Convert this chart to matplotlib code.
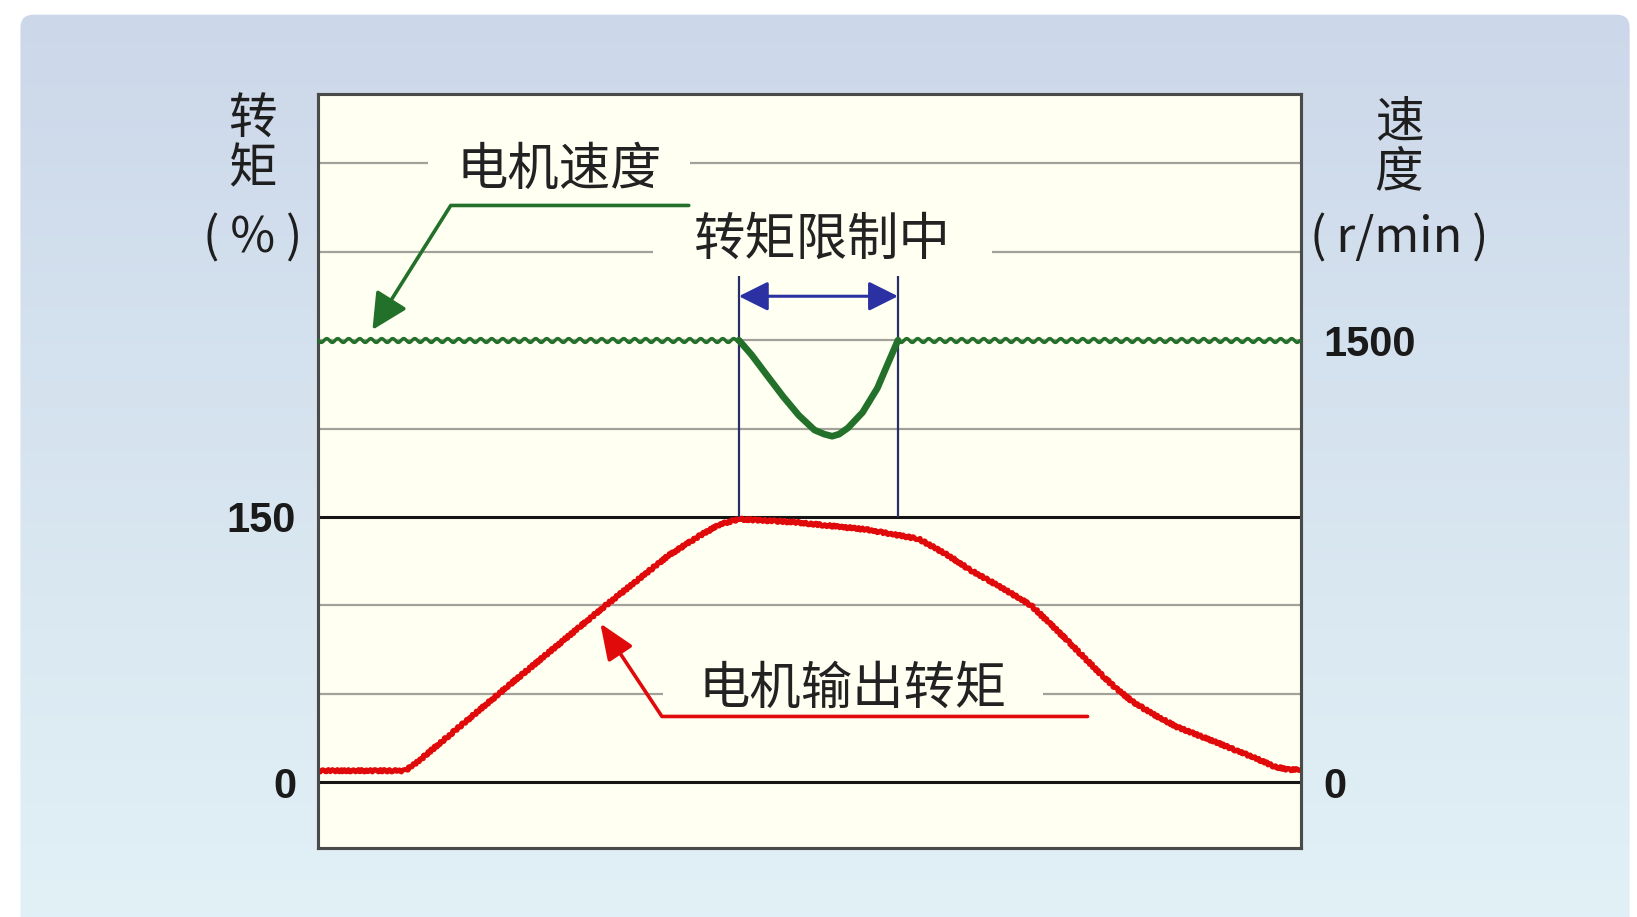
import matplotlib
matplotlib.use("Agg")
import matplotlib.pyplot as plt
from matplotlib.patches import FancyBboxPatch
import numpy as np

plt.rcParams['font.family'] = ['Noto Sans CJK SC', 'DejaVu Sans']

# time axis has no units, 0..100 across the plot
speed_rated = 1500
speed_flat_left_t = [0.0, 42.8]
speed_flat_right_t = [59.0, 100.0]
dip_t = [42.8, 44.1, 45.7, 47.3, 48.9, 50.5, 51.5, 52.3, 53.0, 53.9, 55.4, 56.9, 57.9, 59.0]
dip_speed = [1500, 1450, 1379, 1309, 1245, 1195, 1181, 1174, 1181, 1202, 1255, 1337, 1415, 1500]

torque_t = [0, 8.8, 9.9, 18.4, 29.2, 35.6, 38.8, 40.9, 42.8, 48.4, 55.8, 61.1,
            63.8, 66.4, 69.6, 72.6, 76.2, 79.9, 81.3, 82.9, 85.0, 87.4, 91.7,
            95.4, 97.3, 98.8, 100]
torque_pct = [6.5, 6.5, 10.6, 50.2, 99.8, 128.1, 139.4, 145.9, 148.8, 147.1, 142.9, 137.6,
              129.3, 119.9, 109.9, 99.8, 80.3, 59.7, 52.6, 45.5, 38.4, 31.3, 21.9,
              13.6, 8.9, 7.1, 7.1]

limit_start, limit_end = 42.8, 59.0
torque_grid = [50, 100, 200, 250, 300, 350]
torque_ticks = [0, 150]
speed_ticks = [0, 1500]

RED = '#e10a0a'
GREEN = '#22702a'
BLUE = '#2b31a3'
NAVY = '#2a2e66'

fig = plt.figure(figsize=(16.37, 9.17), dpi=100, facecolor='white')

# background panel with a vertical gradient and rounded top corners
bg = fig.add_axes([0, 0, 1, 1], zorder=-10)
bg.axis('off')
grad = np.linspace(0, 1, 256).reshape(-1, 1)
top = np.array([0.800, 0.845, 0.915])
bot = np.array([0.885, 0.945, 0.965])
img = top + (bot - top) * grad[..., None] * np.ones((1, 1, 3))
im = bg.imshow(img, extent=[0, 1, 0, 1], aspect='auto', origin='upper')
panel = FancyBboxPatch((0.0125, -0.05), 0.983, 1.034,
                       boxstyle="round,pad=0,rounding_size=0.008",
                       mutation_aspect=1637 / 917, transform=bg.transAxes,
                       facecolor='none', edgecolor='none')
bg.add_patch(panel)
im.set_clip_path(panel)
bg.set_xlim(0, 1)
bg.set_ylim(0, 1)

ax = fig.add_axes([0.1945, 0.0752, 0.6001, 0.8223])
ax.set_facecolor('#fffff2')
ax.set_xlim(0, 100)
ax.set_ylim(-37.2, 389.2)
ax2 = ax.twinx()
ax2.set_ylim(-223.2, 2335.2)

for a in (ax, ax2):
    a.set_xticks([])
    for s in a.spines.values():
        s.set_color('#4a4a4a')
        s.set_linewidth(2.2)
ax.spines['top'].set_color('#8a8a86')

# grid lines
for g in torque_grid:
    ax.axhline(g, color='#a2a29a', lw=1.6, zorder=1)
for g in torque_ticks:
    ax.axhline(g, color='#151515', lw=2.2, zorder=1.5)

ax.set_yticks(torque_ticks)
ax.set_yticklabels([str(v) for v in torque_ticks])
ax2.set_yticks(speed_ticks)
ax2.set_yticklabels([str(v) for v in speed_ticks])
for a in (ax, ax2):
    a.tick_params(axis='y', length=0, pad=16, labelsize=30)
    for lab in a.get_yticklabels():
        lab.set_family(['Liberation Sans', 'DejaVu Sans'])
        lab.set_fontweight('bold')
        lab.set_color('#1a1a1a')

# labels inside the plot (boxes hide the grid behind them)
box = dict(boxstyle='square,pad=0.55', facecolor='#fffff2', edgecolor='none')
ax.text(24.5, 346, '电机速度', fontsize=37, ha='center', va='center',
        color='#222222', bbox=box, zorder=2, fontweight='medium')
ax.text(51.3, 306.5, '转矩限制中', fontsize=37, ha='center', va='center',
        color='#222222', bbox=dict(box, boxstyle='square,pad=0.8'), zorder=2,
        fontweight='medium')
ax.text(54.4, 52.6, '电机输出转矩', fontsize=37, ha='center', va='center',
        color='#222222', bbox=dict(box, boxstyle='square,pad=0.7'), zorder=2,
        fontweight='medium')

# motor torque
tl, = ax.plot(torque_t, torque_pct, color=RED, lw=3.6, zorder=4,
              solid_capstyle='butt', solid_joinstyle='round')
tl.set_sketch_params(scale=1.2, length=5, randomness=2)

# motor speed
for xs in (speed_flat_left_t, speed_flat_right_t):
    ln, = ax2.plot(xs, [speed_rated, speed_rated], color=GREEN, lw=2.4, zorder=4)
    ln.set_sketch_params(scale=2.0, length=11, randomness=1)
ax2.plot(dip_t, dip_speed, color=GREEN, lw=4.8, zorder=4,
         solid_capstyle='round', solid_joinstyle='round')

# torque limit span
ax2.vlines([limit_start, limit_end], 900, 1716, color=NAVY, lw=1.6, zorder=3)
ax2.annotate('', xy=(limit_start, 1649), xytext=(limit_end, 1649),
             arrowprops=dict(arrowstyle='<|-|>,head_length=0.9,head_width=0.45',
                             color=BLUE, lw=2.2, mutation_scale=20,
                             shrinkA=0, shrinkB=0))

# leader arrows
ax2.annotate('', xy=(5.5, 1535), xytext=(37.7, 1957),
             arrowprops=dict(arrowstyle='-|>,head_length=1.1,head_width=0.55',
                             color=GREEN, lw=2.6, mutation_scale=20,
                             shrinkA=0, shrinkB=0,
                             connectionstyle='angle,angleA=0,angleB=57.8,rad=0'))
ax.annotate('', xy=(28.7, 89.8), xytext=(78.3, 37.2),
            arrowprops=dict(arrowstyle='-|>,head_length=1.1,head_width=0.45',
                            color=RED, lw=2.6, mutation_scale=20,
                            shrinkA=0, shrinkB=0,
                            connectionstyle='angle,angleA=0,angleB=123.5,rad=0'),
            zorder=5)

# axis titles
kw = dict(fontsize=35, ha='center', va='center', color='#1e1e1e',
          fontweight='medium')
fig.text(0.1543, 0.869, '转', **kw)
fig.text(0.1543, 0.815, '矩', **kw)
fig.text(0.1543, 0.740, '( % )', **kw)
fig.text(0.8546, 0.866, '速', **kw)
fig.text(0.8546, 0.812, '度', **kw)
fig.text(0.8546, 0.740, '(\u2009r/min\u2009)', **kw)

fig.savefig('out.png', dpi=100, facecolor='white')
